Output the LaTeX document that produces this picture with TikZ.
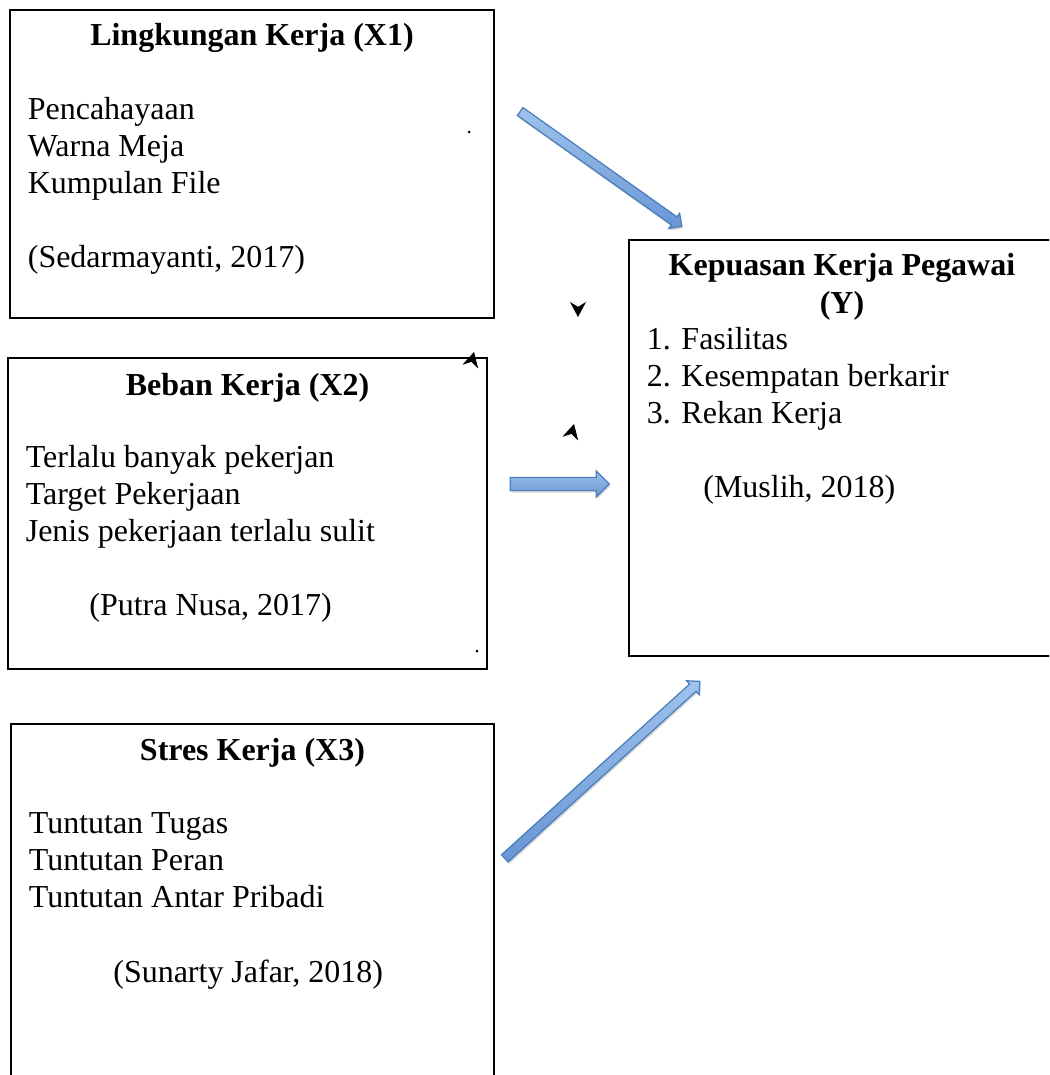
\documentclass[tikz,border=0pt]{standalone}
\usepackage{fontspec}
\setmainfont{Liberation Serif}
\usetikzlibrary{positioning,calc,shapes.arrows,arrows.meta,shadows}

\definecolor{arrowline}{RGB}{74,126,187}
\definecolor{arrowhi}{RGB}{160,194,236}
\definecolor{arrowlo}{RGB}{104,150,212}

\tikzset{
  box/.style={draw, line width=1.1pt, rectangle, anchor=north west, inner sep=0pt},
  head/.style={font=\fontsize{18.2pt}{21pt}\selectfont\bfseries, anchor=base, inner sep=0pt},
  item/.style={font=\fontsize{18.2pt}{21pt}\selectfont, anchor=base west, inner sep=0pt},
  blockarr/.style={single arrow, draw=arrowline, line width=0.7pt, top color=arrowhi, bottom color=arrowlo,
    inner xsep=0pt, minimum width=0pt, single arrow head indent=0pt,
    drop shadow={shadow xshift=0.6pt, shadow yshift=-1.2pt, opacity=0.3, fill=black!50}},
  thinarr/.style={inner ysep=0.085cm, single arrow head extend=0.09cm},
  thickarr/.style={inner ysep=0.12cm, single arrow head extend=0.13cm},
  stray/.style={line width=0.4pt, -{Stealth[length=0.3cm,width=0.32cm]}}
}

% block arrow between two coordinates: name, style, from, to
\newcommand{\flowarrow}[4]{%
  \path let \p1=($(#4)-(#3)$), \n1={atan2(\y1,\x1)}, \n2={veclen(\x1,\y1)} in
    node[blockarr, #2, minimum height=\n2, rotate=\n1] (#1) at ($(#3)!0.5!(#4)$) {};
}

\begin{document}
\begin{tikzpicture}[y=-1cm]
\useasboundingbox (0,0) rectangle (20.98,21.5);
\clip (0,0) rectangle (20.98,21.5);

% boxes
\node[box, minimum width=9.68cm, minimum height=6.16cm] (x1) at (0.18,0.18) {};
\node[box, minimum width=9.58cm, minimum height=6.22cm] (x2) at (0.14,7.14) {};
\node[box, minimum width=9.66cm, minimum height=8cm] (x3) at (0.2,14.46) {};
\node[box, minimum width=8.52cm, minimum height=8.32cm] (y) at (12.56,4.78) {};

% Lingkungan Kerja
\node[head] (x1h) at ([yshift=-0.72cm]x1.north) {Lingkungan Kerja (X1)};
\foreach \t [count=\i] in {Pencahayaan, Warna Meja, Kumpulan File}
  \node[item] (x1l\i) at ([xshift=0.37cm, yshift={-1.46cm-0.74cm*\i}]x1.north west) {\t};
\node[item] (x1c) at ([xshift=0.37cm, yshift=-5.16cm]x1.north west) {(Sedarmayanti, 2017)};

% Beban Kerja
\node[head] (x2h) at ([yshift=-0.76cm]x2.north) {Beban Kerja (X2)};
\foreach \t [count=\i] in {Terlalu banyak pekerjan, Target Pekerjaan, Jenis pekerjaan terlalu sulit}
  \node[item] (x2l\i) at ([xshift=0.37cm, yshift={-1.46cm-0.74cm*\i}]x2.north west) {\t};
\node[item] (x2c) at ([xshift=1.64cm, yshift=-5.16cm]x2.north west) {(Putra Nusa, 2017)};

% Stres Kerja
\node[head] (x3h) at ([yshift=-0.74cm]x3.north) {Stres Kerja (X3)};
\foreach \t [count=\i] in {Tuntutan Tugas, Tuntutan Peran, Tuntutan Antar Pribadi}
  \node[item] (x3l\i) at ([xshift=0.37cm, yshift={-1.46cm-0.74cm*\i}]x3.north west) {\t};
\node[item] (x3c) at ([xshift=2.06cm, yshift=-5.18cm]x3.north west) {(Sunarty Jafar, 2018)};

% Kepuasan Kerja Pegawai
\node[head] (yh) at ([yshift=-0.72cm]y.north) {Kepuasan Kerja Pegawai};
\node[head] (yh2) at ([yshift=-1.48cm]y.north) {(Y)};
\foreach \t [count=\i] in {1. Fasilitas, 2. Kesempatan berkarir, 3. Rekan Kerja}
  \node[item] (yl\i) at ([xshift=0.37cm, yshift={-1.46cm-0.74cm*\i}]y.north west) {\t};
\node[item] (yc) at ([xshift=1.5cm, yshift=-5.16cm]y.north west) {(Muslih, 2018)};

% arrow ends
\coordinate (a1s) at (10.36,2.2);
\coordinate (a1e) at (13.6,4.5);
\coordinate (a2s) at (10.14,9.68);
\coordinate (a2e) at (12.12,9.68);
\coordinate (a3s) at (10.06,17.2);
\coordinate (a3e) at (13.96,13.66);

\flowarrow{ar1}{thinarr}{a1s}{a1e}
\flowarrow{ar2}{thickarr}{a2s}{a2e}
\flowarrow{ar3}{thinarr}{a3s}{a3e}

% loose tips and dots
\coordinate (t1) at (11.56,6.34);
\coordinate (t2) at (9.48,7.04);
\coordinate (t3) at (11.48,8.48);
\draw[stray] ($(t1)+(0,-0.04)$) -- (t1);
\draw[stray] ($(t2)+(-0.01,0.04)$) -- (t2);
\draw[stray] ($(t3)+(-0.01,0.04)$) -- (t3);
\fill (9.38,2.64) circle (0.03);
\fill (9.54,13.02) circle (0.03);
\end{tikzpicture}
\end{document}
